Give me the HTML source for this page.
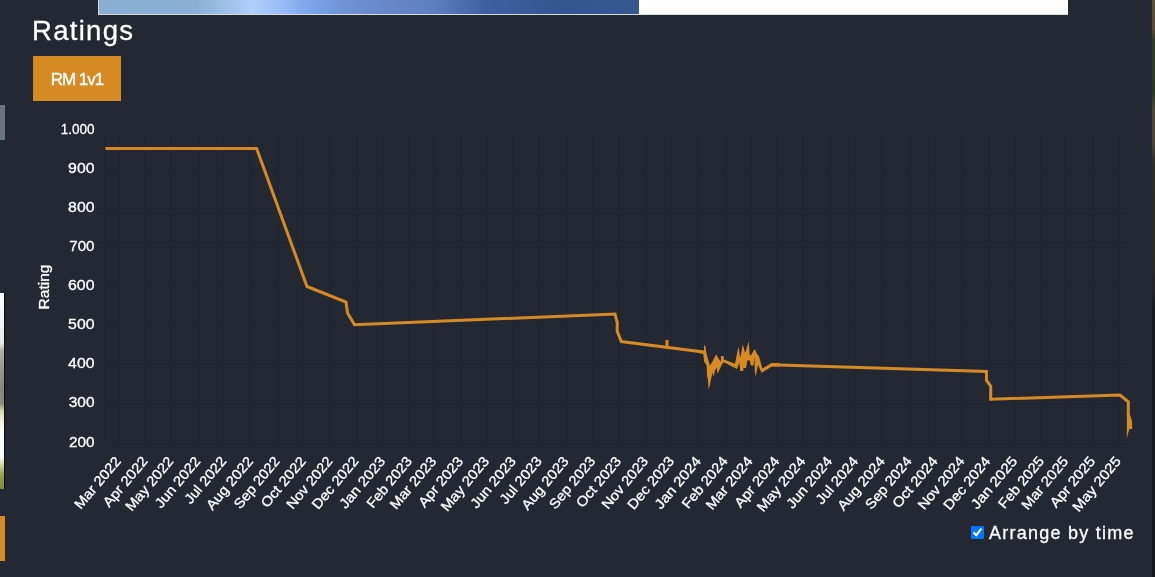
<!DOCTYPE html>
<html lang="en">
<head>
<meta charset="utf-8">
<title>Ratings</title>
<style>
html,body{margin:0;padding:0}
body{width:1155px;height:577px;overflow:hidden;position:relative;background:#242833;color:#fff;font-family:"Liberation Sans", sans-serif}
.abs{position:absolute}
.banner{left:98px;top:-40px;width:970px;height:55px;background:#fff;box-sizing:border-box;border:1px solid #d9dadc;border-top:0;border-right-color:#fff}
.banner i{display:block;width:540px;height:54px;background:linear-gradient(90deg,#88afd3 0%,#8bb0d4 18%,#9dbfe6 23%,#b1cffb 28.5%,#9abef8 33.5%,#7ea6ea 38.5%,#6f92d4 45.5%,#6585c7 55%,#5e7fc0 62%,#3d5f9f 72%,#34578f 85%,#34588f 100%)}
h2{margin:0;left:32px;-webkit-text-stroke:0.3px #fff;top:14px;font-size:27.5px;line-height:34px;font-weight:400;letter-spacing:1.3px;white-space:nowrap}
button{left:33px;top:56px;width:88px;height:45px;border:0;padding:0;margin:0;background:#d68a24;color:#fff;font-family:inherit;font-size:17px;letter-spacing:-1px;border-radius:0;text-align:center;line-height:45px;padding-top:1px;box-sizing:border-box;-webkit-text-stroke:0.4px #fff}
svg.chart{left:0;top:0;position:absolute}
svg text{fill:#fff;font-family:"Liberation Sans", sans-serif;stroke:#fff;stroke-width:0.3}
.yl text{font-size:14.5px}
.yt{font-size:14px}
.xl text{font-size:14px}
.opt{left:971px;top:526px;height:14px;white-space:nowrap}
.opt input{position:absolute;left:0;top:0;margin:0;width:13px;height:13px}
.opt label{position:absolute;left:18px;top:-3px;font-size:18px;line-height:20px;letter-spacing:1.25px;-webkit-text-stroke:0.3px #fff}
.s1{left:0;top:105px;width:5px;height:35px;background:#6c757d}
.s2{left:0;top:293px;width:4.5px;height:196px;background:linear-gradient(180deg,#fff 0%,#f4f4f2 15%,#e6e6e2 26%,#b0b0a8 29.5%,#95958c 40%,#87877e 49%,#8c8c82 56.5%,#d5d8a8 60%,#f0f1dc 65%,#fbfbf8 70%,#fafaf4 84%,#cfd29c 88%,#98a050 92.5%,#7f8a3c 100%);border-right:1px solid #0a0a0a;box-sizing:border-box}
.s3{left:0;top:516px;width:5px;height:45px;background:#d68a24}
.s4{left:1152px;top:0;width:3px;height:577px;background:linear-gradient(180deg,#5c5038 0%,#564b34 5%,#2f3a28 7%,#2c3826 16%,#4a4636 19%,#48443a 25%,#2e2e28 28%,#2a2a26 44%,#24242a 50%,#18191e 54%,#16171c 100%)}
</style>
</head>
<body>
<div class="abs banner"><i></i></div>
<h2 class="abs">Ratings</h2>
<button class="abs" type="button">RM 1v1</button>
<svg class="chart" width="1155" height="577" viewBox="0 0 1155 577">
<path d="M97.0 443.5H1131.0M97.0 403.5H1131.0M97.0 364.5H1131.0M97.0 325.5H1131.0M97.0 286.5H1131.0M97.0 247.5H1131.0M97.0 208.5H1131.0M97.0 169.5H1131.0M97.0 130.5H1131.0M105.5 130.0V444.0M118.5 130.0V451.0M145.5 130.0V451.0M171.5 130.0V451.0M198.5 130.0V451.0M223.5 130.0V451.0M250.5 130.0V451.0M277.5 130.0V451.0M303.5 130.0V451.0M330.5 130.0V451.0M356.5 130.0V451.0M383.5 130.0V451.0M409.5 130.0V451.0M434.5 130.0V451.0M460.5 130.0V451.0M486.5 130.0V451.0M513.5 130.0V451.0M539.5 130.0V451.0M566.5 130.0V451.0M593.5 130.0V451.0M619.5 130.0V451.0M645.5 130.0V451.0M671.5 130.0V451.0M698.5 130.0V451.0M725.5 130.0V451.0M750.5 130.0V451.0M777.5 130.0V451.0M803.5 130.0V451.0M829.5 130.0V451.0M855.5 130.0V451.0M882.5 130.0V451.0M909.5 130.0V451.0M935.5 130.0V451.0M962.5 130.0V451.0M988.5 130.0V451.0M1014.5 130.0V451.0M1041.5 130.0V451.0M1065.5 130.0V451.0M1092.5 130.0V451.0M1118.5 130.0V451.0" fill="none" stroke="#20242e" stroke-width="1"/>
<g class="yl" text-anchor="end">
<text x="94.5" y="446.8" textLength="25.6" lengthAdjust="spacingAndGlyphs">200</text>
<text x="94.5" y="406.8" textLength="25.8" lengthAdjust="spacingAndGlyphs">300</text>
<text x="94.5" y="367.8" textLength="26.4" lengthAdjust="spacingAndGlyphs">400</text>
<text x="94.5" y="328.8" textLength="26.4" lengthAdjust="spacingAndGlyphs">500</text>
<text x="94.5" y="289.8" textLength="26.5" lengthAdjust="spacingAndGlyphs">600</text>
<text x="94.5" y="250.8" textLength="25.2" lengthAdjust="spacingAndGlyphs">700</text>
<text x="94.5" y="211.8" textLength="26.4" lengthAdjust="spacingAndGlyphs">800</text>
<text x="94.5" y="172.8" textLength="26.4" lengthAdjust="spacingAndGlyphs">900</text>
<text x="94.5" y="133.8" textLength="33.8" lengthAdjust="spacingAndGlyphs">1.000</text>
</g>
<text class="yt" transform="translate(49.0 287.0) rotate(-90)" text-anchor="middle" textLength="44.9" lengthAdjust="spacingAndGlyphs">Rating</text>
<g class="xl" text-anchor="end">
<text transform="translate(118.5 454.5) rotate(-50)" x="-3.4" y="6.8" textLength="63.4" lengthAdjust="spacingAndGlyphs">Mar 2022</text>
<text transform="translate(145.3 454.5) rotate(-50)" x="-3.4" y="6.8" textLength="60.8" lengthAdjust="spacingAndGlyphs">Apr 2022</text>
<text transform="translate(171.2 454.5) rotate(-50)" x="-3.4" y="6.8" textLength="66.1" lengthAdjust="spacingAndGlyphs">May 2022</text>
<text transform="translate(198.0 454.5) rotate(-50)" x="-3.4" y="6.8" textLength="62.0" lengthAdjust="spacingAndGlyphs">Jun 2022</text>
<text transform="translate(224.0 454.5) rotate(-50)" x="-3.4" y="6.8" textLength="56.5" lengthAdjust="spacingAndGlyphs">Jul 2022</text>
<text transform="translate(250.8 454.5) rotate(-50)" x="-3.4" y="6.8" textLength="64.5" lengthAdjust="spacingAndGlyphs">Aug 2022</text>
<text transform="translate(277.6 454.5) rotate(-50)" x="-3.4" y="6.8" textLength="63.0" lengthAdjust="spacingAndGlyphs">Sep 2022</text>
<text transform="translate(303.5 454.5) rotate(-50)" x="-3.4" y="6.8" textLength="61.3" lengthAdjust="spacingAndGlyphs">Oct 2022</text>
<text transform="translate(330.3 454.5) rotate(-50)" x="-3.4" y="6.8" textLength="63.3" lengthAdjust="spacingAndGlyphs">Nov 2022</text>
<text transform="translate(356.2 454.5) rotate(-50)" x="-3.4" y="6.8" textLength="63.8" lengthAdjust="spacingAndGlyphs">Dec 2022</text>
<text transform="translate(383.0 454.5) rotate(-50)" x="-3.4" y="6.8" textLength="62.7" lengthAdjust="spacingAndGlyphs">Jan 2023</text>
<text transform="translate(409.8 454.5) rotate(-50)" x="-3.4" y="6.8" textLength="62.1" lengthAdjust="spacingAndGlyphs">Feb 2023</text>
<text transform="translate(434.0 454.5) rotate(-50)" x="-3.4" y="6.8" textLength="63.6" lengthAdjust="spacingAndGlyphs">Mar 2023</text>
<text transform="translate(460.8 454.5) rotate(-50)" x="-3.4" y="6.8" textLength="61.0" lengthAdjust="spacingAndGlyphs">Apr 2023</text>
<text transform="translate(486.8 454.5) rotate(-50)" x="-3.4" y="6.8" textLength="66.3" lengthAdjust="spacingAndGlyphs">May 2023</text>
<text transform="translate(513.6 454.5) rotate(-50)" x="-3.4" y="6.8" textLength="62.2" lengthAdjust="spacingAndGlyphs">Jun 2023</text>
<text transform="translate(539.5 454.5) rotate(-50)" x="-3.4" y="6.8" textLength="56.7" lengthAdjust="spacingAndGlyphs">Jul 2023</text>
<text transform="translate(566.3 454.5) rotate(-50)" x="-3.4" y="6.8" textLength="64.7" lengthAdjust="spacingAndGlyphs">Aug 2023</text>
<text transform="translate(593.1 454.5) rotate(-50)" x="-3.4" y="6.8" textLength="63.2" lengthAdjust="spacingAndGlyphs">Sep 2023</text>
<text transform="translate(619.0 454.5) rotate(-50)" x="-3.4" y="6.8" textLength="61.5" lengthAdjust="spacingAndGlyphs">Oct 2023</text>
<text transform="translate(645.8 454.5) rotate(-50)" x="-3.4" y="6.8" textLength="63.5" lengthAdjust="spacingAndGlyphs">Nov 2023</text>
<text transform="translate(671.8 454.5) rotate(-50)" x="-3.4" y="6.8" textLength="64.0" lengthAdjust="spacingAndGlyphs">Dec 2023</text>
<text transform="translate(698.6 454.5) rotate(-50)" x="-3.4" y="6.8" textLength="63.3" lengthAdjust="spacingAndGlyphs">Jan 2024</text>
<text transform="translate(725.4 454.5) rotate(-50)" x="-3.4" y="6.8" textLength="62.6" lengthAdjust="spacingAndGlyphs">Feb 2024</text>
<text transform="translate(750.4 454.5) rotate(-50)" x="-3.4" y="6.8" textLength="64.2" lengthAdjust="spacingAndGlyphs">Mar 2024</text>
<text transform="translate(777.2 454.5) rotate(-50)" x="-3.4" y="6.8" textLength="61.6" lengthAdjust="spacingAndGlyphs">Apr 2024</text>
<text transform="translate(803.2 454.5) rotate(-50)" x="-3.4" y="6.8" textLength="66.8" lengthAdjust="spacingAndGlyphs">May 2024</text>
<text transform="translate(830.0 454.5) rotate(-50)" x="-3.4" y="6.8" textLength="62.8" lengthAdjust="spacingAndGlyphs">Jun 2024</text>
<text transform="translate(855.9 454.5) rotate(-50)" x="-3.4" y="6.8" textLength="57.3" lengthAdjust="spacingAndGlyphs">Jul 2024</text>
<text transform="translate(882.7 454.5) rotate(-50)" x="-3.4" y="6.8" textLength="65.3" lengthAdjust="spacingAndGlyphs">Aug 2024</text>
<text transform="translate(909.5 454.5) rotate(-50)" x="-3.4" y="6.8" textLength="63.8" lengthAdjust="spacingAndGlyphs">Sep 2024</text>
<text transform="translate(935.5 454.5) rotate(-50)" x="-3.4" y="6.8" textLength="62.0" lengthAdjust="spacingAndGlyphs">Oct 2024</text>
<text transform="translate(962.3 454.5) rotate(-50)" x="-3.4" y="6.8" textLength="64.1" lengthAdjust="spacingAndGlyphs">Nov 2024</text>
<text transform="translate(988.2 454.5) rotate(-50)" x="-3.4" y="6.8" textLength="64.5" lengthAdjust="spacingAndGlyphs">Dec 2024</text>
<text transform="translate(1015.0 454.5) rotate(-50)" x="-3.4" y="6.8" textLength="63.3" lengthAdjust="spacingAndGlyphs">Jan 2025</text>
<text transform="translate(1041.8 454.5) rotate(-50)" x="-3.4" y="6.8" textLength="62.6" lengthAdjust="spacingAndGlyphs">Feb 2025</text>
<text transform="translate(1066.0 454.5) rotate(-50)" x="-3.4" y="6.8" textLength="64.2" lengthAdjust="spacingAndGlyphs">Mar 2025</text>
<text transform="translate(1092.8 454.5) rotate(-50)" x="-3.4" y="6.8" textLength="61.5" lengthAdjust="spacingAndGlyphs">Apr 2025</text>
<text transform="translate(1118.7 454.5) rotate(-50)" x="-3.4" y="6.8" textLength="66.8" lengthAdjust="spacingAndGlyphs">May 2025</text>
</g>
<g class="series" fill="none" stroke="#d68a24" stroke-width="3" stroke-linejoin="miter" stroke-miterlimit="10">
<polyline points="105.5,148.5 256.6,148.5 307,286.5 346,302 347.5,313 354.5,324.7 615,314 617.2,322.4 617.2,331.2 621.3,341.6 703.6,352.1"/>
<polyline points="771.2,364.8 986.5,371.4 986.5,380.5 990.7,386.2 990.7,399.2 1120,395.1 1128.3,401.8 1128.3,416"/>
<polygon points="698.0,350.2 703.9,350.9 704.2,345.1 704.9,345.0 705.8,348.5 706.1,351.3 707.5,357.0 709.9,365.6 712.3,361.8 716.1,354.2 718.5,358.5 720.9,361.8 721.1,355.9 723.7,355.9 723.9,359.4 735.0,363.7 738.4,346.6 740.3,358.0 742.7,344.2 744.6,351.3 745.5,352.3 748.6,341.3 749.8,355.1 750.8,355.6 754.6,349.0 756.7,353.2 759.0,356.6 762.4,368.5 771.0,363.2 780.0,363.2 780.0,366.4 771.9,366.4 761.4,372.8 758.1,364.7 755.7,376.6 754.8,371.3 754.3,356.6 753.6,365.6 750.8,365.6 749.8,360.4 747.4,360.4 746.0,368.0 743.6,368.0 743.1,370.9 740.3,370.9 739.3,362.8 737.0,369.0 723.7,362.3 721.8,364.7 717.5,373.7 716.6,367.5 715.1,370.4 713.7,377.0 712.8,372.3 711.3,378.0 709.9,385.1 708.5,389.4 708.0,379.9 707.0,376.1 706.6,365.6 704.2,361.8 703.2,353.7 698.0,353.0" fill="#d68a24" stroke="none"/>
<polygon points="1126.8,414 1129.8,414 1132.1,421.6 1132.1,428.9 1129.3,428.9 1127.1,437.2 1126.8,437.2" fill="#d68a24" stroke="none"/>
<rect x="665.5" y="340" width="3" height="9" fill="#d68a24" stroke="none"/>
</g>
</svg>
<div class="abs opt"><input type="checkbox" id="abt" checked><label for="abt">Arrange by time</label></div>
<div class="abs s1"></div>
<div class="abs s2"></div>
<div class="abs s3"></div>
<div class="abs s4"></div>
</body>
</html>
